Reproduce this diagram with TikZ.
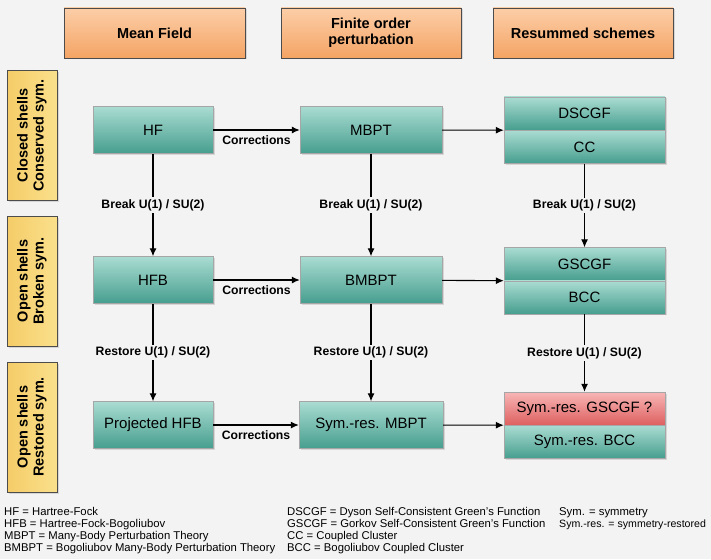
\documentclass[tikz,border=0pt]{standalone}
\usepackage{fontspec}
\setmainfont{Liberation Sans}
\usepackage{tikz}
\usetikzlibrary{positioning}
\usetikzlibrary{arrows.meta}
\usetikzlibrary{shadows}

\definecolor{bgfill}{RGB}{243,243,243}
\definecolor{headtop}{RGB}{252,206,168}
\definecolor{headbot}{RGB}{244,164,100}
\definecolor{sideleft}{RGB}{245,204,104}
\definecolor{sideright}{RGB}{250,224,140}
\definecolor{greentop}{RGB}{170,220,210}
\definecolor{greenbot}{RGB}{70,158,142}
\definecolor{redtop}{RGB}{248,182,182}
\definecolor{redbot}{RGB}{222,96,96}

\begin{document}
\begin{tikzpicture}[x=1pt,y=-1pt]

  \tikzstyle{head}=[draw = black!70, top color = headtop, bottom color = headbot, minimum width = 181pt, minimum height = 50pt, align = center, font = \bfseries\fontsize{14.5}{16}\selectfont, drop shadow = {opacity = 0.25, shadow xshift = 1.5pt, shadow yshift = -1.5pt}]
  \tikzstyle{side}=[draw = black!70, left color = sideleft, right color = sideright, rotate = 90, minimum width = 130pt, minimum height = 50pt, align = center, font = \bfseries\fontsize{14.5}{16}\selectfont, drop shadow = {opacity = 0.25, shadow xshift = 1.5pt, shadow yshift = -1.5pt}]
  \tikzstyle{method}=[draw = black!35, top color = greentop, bottom color = greenbot, minimum width = 120pt, minimum height = 47pt, font = \fontsize{15}{17}\selectfont, drop shadow = {opacity = 0.25, shadow xshift = 1.5pt, shadow yshift = -1.5pt}]
  \tikzstyle{half}=[method, minimum width = 161pt, minimum height = 33pt]
  \tikzstyle{open}=[half, top color = redtop, bottom color = redbot]
  \tikzstyle{connect}=[-{Latex[length = 8pt, width = 7pt]}, line width = 1.1pt]
  \tikzstyle{label}=[fill = bgfill, inner sep = 2pt, font = \bfseries\fontsize{12.2}{14}\selectfont]
  \tikzstyle{legend}=[anchor = base west, inner sep = 0pt, font = \fontsize{11.3}{13}\selectfont]

  \fill[bgfill] (0,0) rectangle (711,559);
  \useasboundingbox (0,0) rectangle (711,559);

  % column and row titles
  \node[head] (meanfield) at (154.5,33) {Mean Field};
  \node[head, minimum width = 180pt] (finite) at (371,33) {Finite order\\perturbation};
  \node[head, minimum width = 180pt] (resummed) at (583,33) {Resummed schemes};

  \node[side] (closed) at (32,135.5) {Closed shells\\Conserved sym.};
  \node[side] (broken) at (32,281) {Open shells\\Broken sym.};
  \node[side] (restored) at (32,427) {Open shells\\Restored sym.};

  % methods
  \node[method] (hf) at (153,130) {HF};
  \node[method, minimum width = 142pt] (mbpt) at (371,130) {MBPT};
  \node[half] (dscgf) at (584.5,113.5) {DSCGF};
  \node[half] (cc) [below = 0pt of dscgf] {CC};

  \node[method] (hfb) [below of = hf, node distance = 150pt] {HFB};
  \node[method, minimum width = 142pt] (bmbpt) [below of = mbpt, node distance = 150pt] {BMBPT};
  \node[half] (gscgf) [below of = dscgf, node distance = 150.5pt] {GSCGF};
  \node[half] (bcc) [below = 0pt of gscgf] {BCC};

  \node[method] (phfb) [below of = hfb, node distance = 145pt] {Projected HFB};
  \node[method, minimum width = 144pt] (srmbpt) [below of = bmbpt, node distance = 145pt] {Sym.-res. MBPT};
  \node[open] (srgscgf) [below of = gscgf, node distance = 144.5pt] {Sym.-res. GSCGF ?};
  \node[half] (srbcc) [below = 0pt of srgscgf] {Sym.-res. BCC};

  \path (hf) edge [connect] node[label, below = 3pt] {Corrections} (mbpt)
        (mbpt) edge [connect] (dscgf.south west)
        (hfb) edge [connect] node[label, below = 3pt] {Corrections} (bmbpt)
        (bmbpt) edge [connect] (gscgf.south west)
        (phfb) edge [connect] node[label, below = 3pt] {Corrections} (srmbpt)
        (srmbpt) edge [connect] (srgscgf.south west);

  \path (hf) edge [connect] node[label] {Break U(1) / SU(2)} (hfb)
        (mbpt) edge [connect] node[label] {Break U(1) / SU(2)} (bmbpt)
        (cc) edge [connect] node[label] {Break U(1) / SU(2)} (gscgf)
        (hfb) edge [connect] node[label] {Restore U(1) / SU(2)} (phfb)
        (bmbpt) edge [connect] node[label] {Restore U(1) / SU(2)} (srmbpt)
        (bcc) edge [connect] node[label] {Restore U(1) / SU(2)} (srgscgf);

  % abbreviations
  \node[legend] (lhf) at (4,515) {HF = Hartree-Fock};
  \node[legend] (lhfb) at (4,527) {HFB = Hartree-Fock-Bogoliubov};
  \node[legend] (lmbpt) at (4,539) {MBPT = Many-Body Perturbation Theory};
  \node[legend] (lbmbpt) at (4,551) {BMBPT = Bogoliubov Many-Body Perturbation Theory};
  \node[legend] (ldscgf) at (287,515) {DSCGF = Dyson Self-Consistent Green's Function};
  \node[legend] (lgscgf) at (287,527) {GSCGF = Gorkov Self-Consistent Green's Function};
  \node[legend] (lcc) at (287,539) {CC = Coupled Cluster};
  \node[legend] (lbcc) at (287,551) {BCC = Bogoliubov Coupled Cluster};
  \node[legend] (lsym) at (559,515) {Sym. = symmetry};
  \node[legend, font = \fontsize{10.6}{13}\selectfont] (lsymres) at (559,527) {Sym.-res. = symmetry-restored};

\end{tikzpicture}
\end{document}
